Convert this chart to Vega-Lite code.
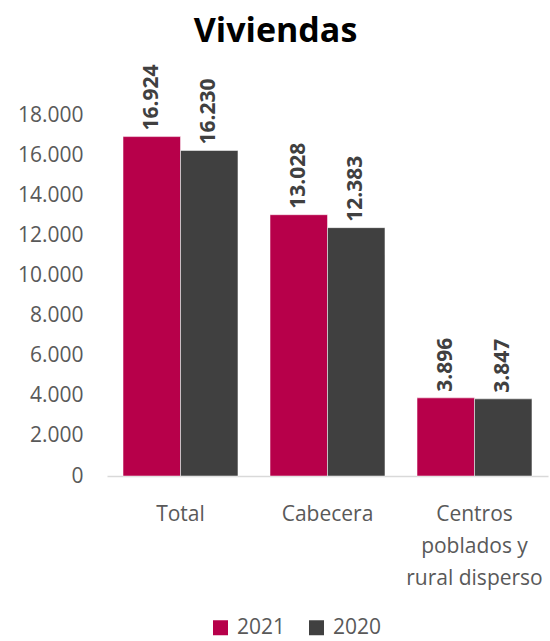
{
  "$schema": "https://vega.github.io/schema/vega-lite/v6.json",
  "autosize": {"type": "none"},
  "width": 441,
  "height": 361,
  "padding": {"left": 107, "top": 115, "right": 2, "bottom": 165},
  "background": "white",
  "title": {
    "text": "Viviendas",
    "font": "Open Sans",
    "fontSize": 34,
    "fontWeight": "bold",
    "color": "#000000",
    "anchor": "middle",
    "frame": "group",
    "dx": -52,
    "offset": 16
  },
  "data": {
    "values": [
      {"cat": "Total", "year": "2021", "value": 16924},
      {"cat": "Total", "year": "2020", "value": 16230},
      {"cat": "Cabecera", "year": "2021", "value": 13028},
      {"cat": "Cabecera", "year": "2020", "value": 12383},
      {"cat": "Centros poblados y rural disperso", "year": "2021", "value": 3896},
      {"cat": "Centros poblados y rural disperso", "year": "2020", "value": 3847}
    ]
  },
  "encoding": {
    "x": {
      "field": "cat",
      "type": "nominal",
      "sort": ["Total", "Cabecera", "Centros poblados y rural disperso"],
      "scale": {"paddingInner": 0.218, "paddingOuter": 0.109},
      "axis": {
        "title": null,
        "labelAngle": 0,
        "labelFont": "Open Sans",
        "labelFontSize": 21,
        "labelColor": "#595959",
        "labelPadding": 27,
        "labelBaseline": "top",
        "labelLineHeight": 32,
        "ticks": false,
        "domainColor": "#D9D9D9",
        "domainWidth": 1.5,
        "labelExpr": "datum.label == 'Centros poblados y rural disperso' ? ['Centros', 'poblados y', 'rural disperso'] : datum.label"
      }
    },
    "xOffset": {"field": "year", "type": "nominal", "sort": ["2021", "2020"], "scale": {"paddingInner": 0, "paddingOuter": 0}},
    "y": {
      "field": "value",
      "type": "quantitative",
      "scale": {"domain": [0, 18000], "nice": false},
      "axis": {
        "title": null,
        "values": [0, 2000, 4000, 6000, 8000, 10000, 12000, 14000, 16000, 18000],
        "format": ",d",
        "grid": false,
        "domain": false,
        "ticks": false,
        "labelFont": "Open Sans",
        "labelFontSize": 21,
        "labelColor": "#595959",
        "labelPadding": 24
      }
    },
    "color": {
      "field": "year",
      "type": "nominal",
      "sort": ["2021", "2020"],
      "scale": {"domain": ["2021", "2020"], "range": ["#B7004A", "#404040"]},
      "legend": {
        "title": null,
        "orient": "none",
        "direction": "horizontal",
        "legendX": 103,
        "legendY": 502,
        "symbolType": "square",
        "symbolSize": 225,
        "symbolStrokeWidth": 0,
        "labelFont": "Open Sans",
        "labelFontSize": 21,
        "labelColor": "#595959",
        "labelOffset": 6,
        "columnPadding": 20
      }
    }
  },
  "layer": [
    {"mark": {"type": "bar", "stroke": "#ffffff", "strokeWidth": 0.5}},
    {
      "mark": {
        "type": "text",
        "angle": 270,
        "align": "left",
        "baseline": "middle",
        "dx": 6,
        "font": "Open Sans",
        "fontSize": 21,
        "fontWeight": "bold",
        "color": "#404040"
      },
      "encoding": {
        "text": {"field": "value", "type": "quantitative", "format": ",d"},
        "color": {"value": "#404040"}
      }
    }
  ],
  "config": {
    "view": {"stroke": null},
    "locale": {
      "number": {"decimal": ",", "thousands": ".", "grouping": [3], "currency": ["$", ""]}
    }
  }
}
